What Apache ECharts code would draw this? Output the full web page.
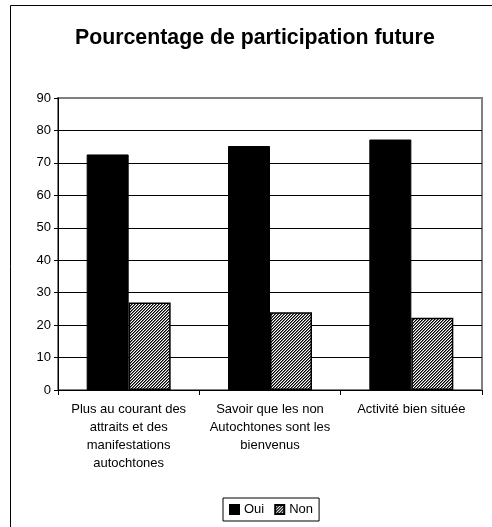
<!DOCTYPE html>
<html>
<head>
<meta charset="utf-8">
<script src="https://cdn.jsdelivr.net/npm/echarts@6/dist/echarts.min.js"></script>
<style>
html,body{margin:0;padding:0;background:#fff;}
#main{width:492px;height:527px;}
</style>
</head>
<body>
<div id="main"></div>
<script>
var categories = [
  "Plus au courant des\nattraits et des\nmanifestations\nautochtones",
  "Savoir que les non\nAutochtones sont les\nbienvenus",
  "Activité bien située"
];
var seriesNames = ["Oui", "Non"];
var ouiValues = [72.6, 75.2, 77.2];
var nonValues = [27.0, 24.0, 22.3];
var yTicks = [0, 10, 20, 30, 40, 50, 60, 70, 80, 90];

function makeHatch() {
  var n = 3;
  var c = document.createElement('canvas');
  c.width = n; c.height = n;
  var ctx = c.getContext('2d');
  ctx.fillStyle = '#ffffff';
  ctx.fillRect(0, 0, n, n);
  for (var x = 0; x < n; x++) {
    for (var y = 0; y < n; y++) {
      var k = (x + y) % n;
      if (k === 0) { ctx.fillStyle = '#000000'; ctx.fillRect(x, y, 1, 1); }
      else if (k === 1) { ctx.fillStyle = '#707070'; ctx.fillRect(x, y, 1, 1); }
    }
  }
  return c;
}

var gridColors = yTicks.map(function (v, i) { return i === yTicks.length - 1 ? '#808080' : '#000000'; });

var font = '"Liberation Sans", Arial, sans-serif';
var chart = echarts.init(document.getElementById('main'), null, {renderer: 'canvas'});
chart.setOption({
  backgroundColor: '#ffffff',
  animation: false,
  title: {
    text: 'Pourcentage de participation future',
    left: 75,
    top: 28,
    padding: 0,
    textStyle: {fontFamily: font, fontSize: 21.3, fontWeight: 'bold', color: '#000'}
  },
  legend: {
    data: seriesNames,
    top: 498,
    left: 223,
    icon: 'rect',
    itemWidth: 9,
    itemHeight: 9,
    itemGap: 10,
    padding: [5, 6, 5, 6],
    borderColor: '#000',
    borderWidth: 1,
    textStyle: {fontFamily: font, fontSize: 13, color: '#000'}
  },
  grid: {
    left: 58, right: 10, top: 98, bottom: 137,
    show: true,
    borderColor: '#808080',
    borderWidth: 2,
    backgroundColor: '#ffffff'
  },
  xAxis: {
    type: 'category',
    data: categories,
    axisLine: {lineStyle: {color: '#000', width: 1}},
    axisTick: {show: true, length: 5, lineStyle: {color: '#000'}},
    axisLabel: {
      fontFamily: font, fontSize: 13, color: '#000',
      margin: 10, lineHeight: 18, interval: 0, align: 'center'
    }
  },
  yAxis: {
    type: 'value',
    min: yTicks[0],
    max: yTicks[yTicks.length - 1],
    interval: 10,
    axisLine: {show: true, lineStyle: {color: '#000', width: 1}},
    axisTick: {show: true, length: 4, lineStyle: {color: '#000'}},
    axisLabel: {fontFamily: font, fontSize: 13, color: '#000', margin: 7},
    splitLine: {show: true, lineStyle: {color: gridColors, width: 1}}
  },
  series: [
    {
      name: seriesNames[0],
      type: 'bar',
      data: ouiValues,
      barWidth: 42,
      barGap: '0%',
      itemStyle: {color: '#000', borderColor: '#000', borderWidth: 1}
    },
    {
      name: seriesNames[1],
      type: 'bar',
      data: nonValues,
      barWidth: 42,
      barGap: '0%',
      itemStyle: {
        color: {image: makeHatch(), repeat: 'repeat'},
        borderColor: '#000',
        borderWidth: 1.5
      }
    }
  ],
  graphic: [
    {
      type: 'rect',
      shape: {x: 10.5, y: 5.5, width: 600, height: 600},
      style: {fill: 'none', stroke: '#000', lineWidth: 1},
      silent: true,
      z: 100
    }
  ]
});
</script>
</body>
</html>
